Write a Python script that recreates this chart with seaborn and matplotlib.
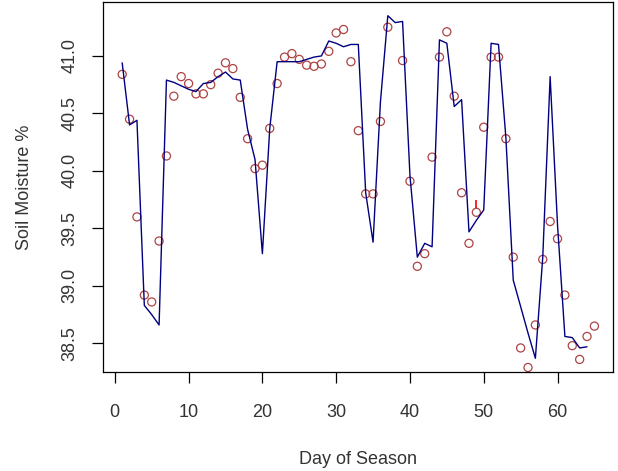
import numpy as np
import pandas as pd
import matplotlib
matplotlib.use("Agg")
import matplotlib.pyplot as plt
import seaborn as sns

# observed soil moisture (day 38 missing)
obs_day = [1, 2, 3, 4, 5, 6, 7, 8, 9, 10, 11, 12, 13, 14, 15, 16, 17, 18, 19, 20,
           21, 22, 23, 24, 25, 26, 27, 28, 29, 30, 31, 32, 33, 34, 35, 36, 37, 39, 40, 41,
           42, 43, 44, 45, 46, 47, 48, 49, 50, 51, 52, 53, 54, 55, 56, 57, 58, 59, 60, 61,
           62, 63, 64, 65]
obs_val = [40.84, 40.45, 39.60, 38.92, 38.86, 39.39, 40.13, 40.65, 40.82, 40.76,
           40.67, 40.67, 40.75, 40.85, 40.94, 40.89, 40.64, 40.28, 40.02, 40.05,
           40.37, 40.76, 40.99, 41.02, 40.97, 40.92, 40.91, 40.93, 41.04, 41.20,
           41.23, 40.95, 40.35, 39.80, 39.80, 40.43, 41.25, 40.96, 39.91, 39.17,
           39.28, 40.12, 40.99, 41.21, 40.65, 39.81, 39.37, 39.64, 40.38, 40.99,
           40.99, 40.28, 39.25, 38.46, 38.29, 38.66, 39.23, 39.56, 39.41, 38.92,
           38.48, 38.36, 38.56, 38.65]

# fitted line, days 1-64
fit_day = list(range(1, 65))
fit_val = [40.94, 40.40, 40.44, 38.83, 38.75, 38.66, 40.79, 40.77, 40.74, 40.71,
           40.69, 40.76, 40.77, 40.82, 40.86, 40.80, 40.79, 40.36, 40.10, 39.28,
           40.37, 40.95, 40.95, 40.95, 40.95, 40.97, 40.99, 41.00, 41.13, 41.11,
           41.08, 41.10, 41.10, 39.81, 39.38, 40.60, 41.35, 41.29, 41.30, 39.96,
           39.25, 39.37, 39.34, 41.14, 41.11, 40.56, 40.62, 39.47, 39.57, 39.66,
           41.11, 41.10, 40.29, 39.05, 38.82, 38.59, 38.37, 39.25, 40.82, 39.53,
           38.56, 38.55, 38.46, 38.47]

# small red mark above day 49
mark_day = [49]
mark_lo = [39.68]
mark_hi = [39.75]

obs = pd.DataFrame({"day": obs_day, "moisture": obs_val})
fit = pd.DataFrame({"day": fit_day, "moisture": fit_val})

sns.set_theme(style="ticks")
plt.rcParams["font.family"] = ["Liberation Sans", "DejaVu Sans"]

fig = plt.figure(figsize=(6.18, 4.71), dpi=100)
ax = fig.add_axes([103.3 / 618, 99 / 471, 510 / 618, 370 / 471])

sns.lineplot(data=fit, x="day", y="moisture", color="navy", lw=1.0, ax=ax)
sns.scatterplot(data=obs, x="day", y="moisture", marker="o", s=34, ax=ax)
pts = ax.collections[-1]
pts.set_facecolor("none")
pts.set_edgecolor("#ad4444")
pts.set_linewidth(0.9)
ax.vlines(mark_day, mark_lo, mark_hi, color="red", lw=1.2)

# R-style 4% axis padding
x0, x1 = min(obs_day), max(obs_day)
dx = (x1 - x0) * 0.04
ax.set_xlim(x0 - dx, x1 + dx)
y0, y1 = min(fit_val), max(fit_val)
dy = (y1 - y0) * 0.04
ax.set_ylim(y0 - dy, y1 + dy)

ax.set_xticks([0, 10, 20, 30, 40, 50, 60])
ax.set_yticks([38.5, 39.0, 39.5, 40.0, 40.5, 41.0])
ax.set_yticklabels(["38.5", "39.0", "39.5", "40.0", "40.5", "41.0"])
plt.setp(ax.get_yticklabels(), rotation=90, va="center")

for s in ax.spines.values():
    s.set_visible(True)
    s.set_color("black")
    s.set_linewidth(0.9)

ax.tick_params(axis="both", length=8, width=0.9, color="black",
               labelsize=13, labelcolor="#333333")
ax.tick_params(axis="x", pad=15)
ax.tick_params(axis="y", pad=10)

ax.set_xlabel("Day of Season", fontsize=13, color="#333333", va="center")
ax.set_ylabel("Soil Moisture %", fontsize=13, color="#333333", va="center")
ax.xaxis.set_label_coords(0.5, (372 - 459) / 370)
ax.yaxis.set_label_coords((25 - 103.3) / 510, 0.5)

fig.savefig("out.png", dpi=100)
